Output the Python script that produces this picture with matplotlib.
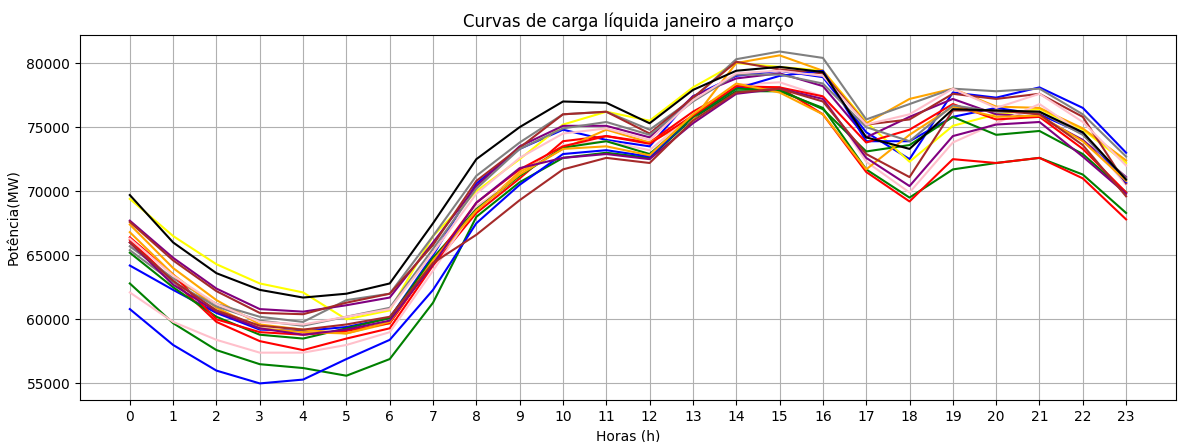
import matplotlib
matplotlib.use("Agg")
import matplotlib.pyplot as plt

horas = list(range(24))

black = [69700, 66000, 63600, 62300, 61700, 62000, 62800, 67500, 72500, 75000, 77000, 76900,
         75300, 77900, 79400, 79700, 79300, 74200, 73300, 76400, 76300, 76200, 74600, 70900]
yellow = [69400, 66500, 64300, 62800, 62100, 60000, 60700, 66500, 70000, 72500, 75200, 76200,
          75500, 78100, 80000, 79700, 79400, 75400, 72300, 75100, 76000, 76400, 74800, 72200]
gray = [65700, 63200, 61200, 60200, 59800, 61500, 62000, 66500, 71200, 73800, 76000, 76200,
        74800, 77200, 80300, 80900, 80400, 75600, 76800, 78000, 77800, 78000, 76000, 72700]
orange = [67400, 64000, 61500, 59600, 59200, 58900, 59700, 64500, 68500, 71500, 73300, 74800,
          73800, 75600, 80000, 80600, 79400, 75300, 77200, 78000, 76600, 76500, 74900, 72400]
purple = [67700, 64800, 62400, 60800, 60600, 61100, 61700, 66000, 70400, 73500, 75100, 75100,
          74200, 77400, 78800, 79200, 78200, 74200, 75800, 77200, 76000, 75800, 74000, 71100]
brown = [67600, 64600, 62200, 60500, 60400, 61300, 62000, 65800, 70800, 73400, 76000, 76200,
         74500, 77300, 80100, 79500, 79200, 75200, 75600, 77600, 77200, 77600, 75800, 70600]
blue = [64200, 62300, 60500, 59200, 59100, 59400, 60100, 65000, 70600, 73300, 74800, 74000,
        73500, 77400, 79000, 79400, 78900, 74600, 72500, 77700, 77300, 78100, 76500, 73000]
blue_2 = [60800, 58000, 56000, 55000, 55300, 56900, 58400, 62300, 67500, 70500, 72900, 73200,
          72700, 75800, 78000, 79000, 79400, 73900, 73900, 75800, 76500, 76000, 74500, 70700]
green = [62800, 59700, 57600, 56500, 56200, 55600, 56900, 61300, 68000, 70700, 72600, 73000,
         72600, 75700, 77800, 77800, 76500, 71700, 69500, 71700, 72200, 72600, 71300, 68300]
red = [66200, 63000, 59800, 58300, 57600, 58500, 59300, 64200, 68300, 71000, 73900, 74300,
       73800, 76200, 78100, 78100, 76000, 71500, 69200, 72500, 72200, 72600, 71000, 67800]
pink = [62100, 59800, 58400, 57400, 57400, 58000, 59000, 63800, 68800, 71200, 73600, 73900,
        73200, 76000, 78300, 78500, 77400, 72300, 69900, 73800, 75300, 76800, 74500, 70500]
red_2 = [66400, 63500, 60000, 59000, 58800, 59100, 59700, 64500, 69100, 71700, 73500, 74300,
         73700, 75900, 78200, 78100, 77400, 73800, 74800, 76800, 75600, 75800, 73300, 69900]
green_2 = [65200, 62500, 60200, 58800, 58500, 59300, 60100, 64800, 68600, 71200, 73400, 73900,
           72900, 75800, 78000, 77900, 76400, 73100, 73600, 75800, 74400, 74700, 72900, 69900]
purple_2 = [66000, 62700, 60600, 59300, 58800, 59200, 59900, 64300, 69100, 71800, 72600, 72900,
            72500, 75300, 77600, 78000, 77200, 72600, 70400, 74300, 75200, 75400, 72700, 69800]
brown_2 = [66000, 63000, 60700, 59500, 59200, 59600, 60200, 64400, 66600, 69300, 71700, 72600,
           72200, 75500, 77700, 78000, 77000, 72900, 71100, 76300, 76300, 76000, 73600, 69600]
orange_2 = [66800, 63500, 60900, 59300, 59000, 58900, 59800, 64600, 68500, 71300, 73300, 73500,
            72800, 76000, 78400, 77700, 76000, 71700, 74400, 76600, 75800, 75900, 73900, 70800]
gray_2 = [65400, 62900, 61000, 59900, 59500, 60200, 60900, 65500, 70200, 73300, 74900, 75400,
          74400, 77000, 79100, 79100, 78400, 75000, 73900, 76700, 76200, 76200, 74400, 71000]
pink_2 = [66300, 63400, 61200, 59800, 59600, 60200, 60800, 65200, 69800, 72600, 74500, 74900,
          74000, 77100, 79200, 79400, 79000, 75200, 76000, 78000, 76500, 77600, 75400, 72000]

curvas = [
    (blue, 'blue'), (green, 'green'), (red, 'red'), (yellow, 'yellow'),
    (orange, 'orange'), (gray, 'gray'), (purple, 'purple'), (pink, 'pink'),
    (brown, 'brown'), (blue_2, 'blue'), (green_2, 'green'), (red_2, 'red'),
    (orange_2, 'orange'), (gray_2, 'gray'), (purple_2, 'purple'), (pink_2, 'pink'),
    (brown_2, 'brown'), (black, 'black'),
]

fig = plt.figure(figsize=(12.03, 4.42), dpi=100)
ax = fig.add_axes([0.0665, 0.095, 0.911, 0.826])

for valores, cor in curvas:
    ax.plot(horas, valores, color=cor)

ax.set_xticks(horas)
ax.set_title('Curvas de carga líquida janeiro a março')
ax.set_xlabel('Horas (h)')
ax.set_ylabel('Potência(MW)')
ax.grid(True)

fig.savefig('out.png', dpi=100)
